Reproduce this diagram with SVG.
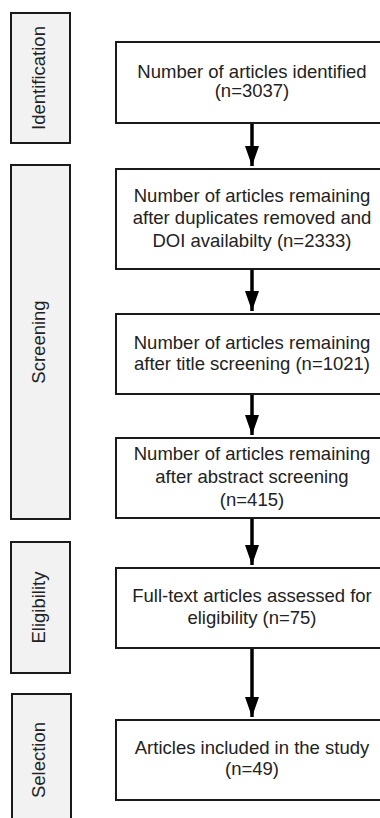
<svg xmlns="http://www.w3.org/2000/svg" width="380" height="818" viewBox="0 0 380 818">
<style>
.side{fill:#f2f2f2;stroke:#1a1a1a;stroke-width:2}
.box{fill:#ffffff;stroke:#1a1a1a;stroke-width:2}
text{font-family:"Liberation Sans",Arial,sans-serif;font-size:18.5px;fill:#222;text-anchor:middle}
.conn{stroke:#000;stroke-width:3.5;fill:none}
</style>
<defs>
<marker id="ah" viewBox="0 0 20 14" refX="20" refY="7" markerWidth="5.7" markerHeight="4" markerUnits="strokeWidth" orient="auto" preserveAspectRatio="none">
<path d="M0,0 L20,7 L0,14 z" fill="#000"/>
</marker>
</defs>
<rect width="380" height="818" fill="#fff"/>
<g id="stage-identification">
<rect class="side" x="11" y="13" width="59" height="130"/>
<text transform="translate(45,78) rotate(-90)">Identification</text>
</g>
<g id="stage-screening">
<rect class="side" x="11" y="165" width="59" height="354"/>
<text transform="translate(45,342) rotate(-90)">Screening</text>
</g>
<g id="stage-eligibility">
<rect class="side" x="11" y="542" width="59" height="131"/>
<text transform="translate(45,607.5) rotate(-90)">Eligibility</text>
</g>
<g id="stage-selection">
<rect class="side" x="12" y="694" width="59" height="134"/>
<text transform="translate(45,760) rotate(-90)">Selection</text>
</g>
<g id="n1">
<rect class="box" x="116" y="42" width="272" height="81"/>
<text x="252" y="77.5">Number of articles identified</text>
<text x="252" y="96.5">(n=3037)</text>
</g>
<g id="n2">
<rect class="box" x="116" y="169" width="272" height="100"/>
<text x="252" y="201.5">Number of articles remaining</text>
<text x="252" y="223.5">after duplicates removed and</text>
<text x="252" y="246.5">DOI availabilty (n=2333)</text>
</g>
<g id="n3">
<rect class="box" x="116" y="314" width="272" height="80"/>
<text x="252" y="348.5">Number of articles remaining</text>
<text x="252" y="369.5">after title screening (n=1021)</text>
</g>
<g id="n4">
<rect class="box" x="116" y="438" width="272" height="80"/>
<text x="252" y="459.5">Number of articles remaining</text>
<text x="252" y="482.5">after abstract screening</text>
<text x="252" y="505.5">(n=415)</text>
</g>
<g id="n5">
<rect class="box" x="116" y="568" width="272" height="80"/>
<text x="252" y="601.5">Full-text articles assessed for</text>
<text x="252" y="623.5">eligibility (n=75)</text>
</g>
<g id="n6">
<rect class="box" x="116" y="720" width="272" height="80"/>
<text x="252" y="753.5">Articles included in the study</text>
<text x="252" y="774.5">(n=49)</text>
</g>
<g id="connectors">
<line class="conn" x1="252" y1="124" x2="252" y2="166" marker-end="url(#ah)"/>
<line class="conn" x1="252" y1="270" x2="252" y2="311" marker-end="url(#ah)"/>
<line class="conn" x1="252" y1="395" x2="252" y2="435" marker-end="url(#ah)"/>
<line class="conn" x1="252" y1="519" x2="252" y2="565" marker-end="url(#ah)"/>
<line class="conn" x1="252" y1="649" x2="252" y2="717" marker-end="url(#ah)"/>
</g>
</svg>
